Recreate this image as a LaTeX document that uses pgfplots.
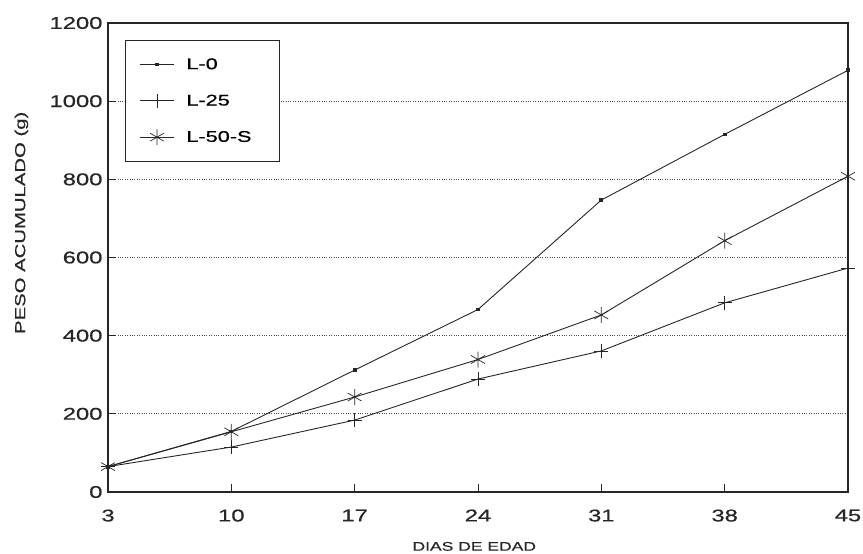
\documentclass[border=0pt]{standalone}
\usepackage{fontspec}
\setmainfont{Liberation Sans}
\newfontfamily\widefont[FakeStretch=1.4,FakeBold=0.6]{Liberation Sans}
\usepackage{pgfplots}
\pgfplotsset{compat=1.18}
\begin{document}
\begin{tikzpicture}[x=1pt,y=1pt]
\useasboundingbox (0,0) rectangle (863,554);
\begin{axis}[
  at={(108pt,62pt)}, anchor=south west,
  scale only axis, width=740pt, height=469pt,
  xmin=3, xmax=45, ymin=0, ymax=1200,
  xtick={3,10,17,24,31,38,45},
  ytick={0,200,400,600,800,1000,1200},
  tick pos=left,
  tick align=inside,
  major tick length=8pt,
  axis line style={black!85, line width=1.1pt},
  every tick/.style={black!85, line width=0.9pt},
  ymajorgrids,
  grid style={black!70, dotted, line width=1pt},
  /pgf/number format/assume math mode=true,
  /pgf/number format/1000 sep={},
  ticklabel style={font=\widefont\fontsize{17}{19}\selectfont, black!85},
  xticklabel style={yshift=-14pt},
  yticklabel style={xshift=-2pt},
  xlabel={DIAS DE EDAD},
  ylabel={PESO ACUMULADO (g)},
  xlabel style={font=\widefont\fontsize{12.5}{14}\selectfont, black!85,
    at={(axis description cs:0.495,-0.116)}, anchor=center},
  ylabel style={font=\widefont\fontsize{14.5}{16}\selectfont, black!85,
    at={(axis description cs:-0.117,0.574)}, anchor=center},
  legend style={at={(0.023,0.964)}, anchor=north west,
    draw=black!85, line width=1pt,
    font=\widefont\fontsize{15.5}{17}\selectfont,
    inner xsep=14pt, inner ysep=16pt, row sep=20pt,
    /tikz/every odd column/.append style={column sep=10pt}},
  legend cell align=left,
  legend image code/.code={\draw[mark repeat=2,mark phase=2] plot coordinates {(0pt,0pt) (17pt,0pt) (34pt,0pt)};},
]
\addplot[black!85, line width=0.9pt, mark=square*, mark size=1.4pt, mark options={solid}] coordinates {
(3,65) (10,155) (17,312) (24,467) (31,747) (38,915) (45,1079)};
\addlegendentry{L-0}
\addplot[black!85, line width=0.9pt, mark=+, mark size=7pt, mark options={solid, line width=0.8pt}] coordinates {
(3,65) (10,115) (17,184) (24,289) (31,361) (38,484) (45,573)};
\addlegendentry{L-25}
\addplot[black!85, line width=0.9pt, mark=asterisk, mark size=8pt, mark options={solid, line width=0.7pt}] coordinates {
(3,65) (10,154) (17,243) (24,339) (31,453) (38,643) (45,808)};
\addlegendentry{L-50-S\rule{12pt}{0pt}}
\end{axis}
\end{tikzpicture}
\end{document}
